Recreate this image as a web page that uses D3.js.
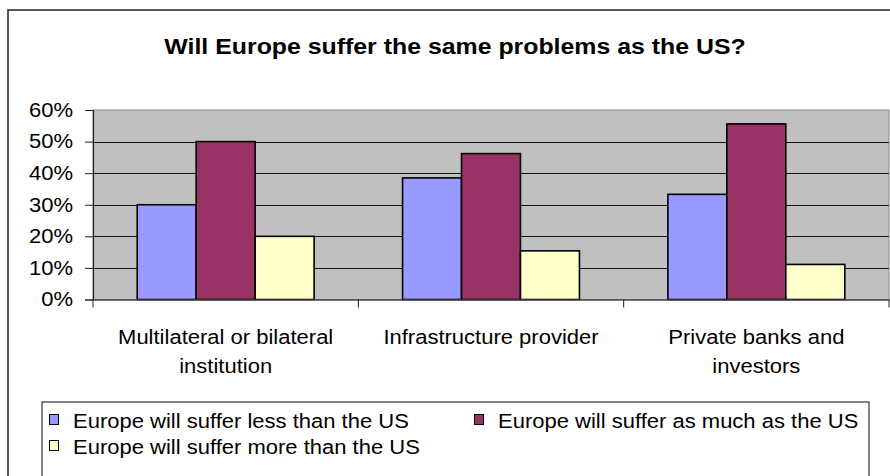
<!DOCTYPE html>
<html>
<head>
<meta charset="utf-8">
<script src="https://cdn.jsdelivr.net/npm/d3@7"></script>
<style>
  html, body { margin: 0; padding: 0; background: #fff; }
  svg { display: block; }
  text { font-family: Arial, "Liberation Sans", sans-serif; fill: #000; }
</style>
</head>
<body>
<svg id="chart" width="890" height="476"></svg>
<script>
const title = "Will Europe suffer the same problems as the US?";
const categories = ["Multilateral or bilateral institution", "Infrastructure provider", "Private banks and investors"];
const seriesNames = ["Europe will suffer less than the US", "Europe will suffer as much as the US", "Europe will suffer more than the US"];
const lessValues = [30, 38.5, 33.3];
const sameValues = [50, 46.2, 55.6];
const moreValues = [20, 15.4, 11.1];
const yTicks = [0, 10, 20, 30, 40, 50, 60];
const colors = ["#9999FF", "#993366", "#FFFFCC"];

const series = [lessValues, sameValues, moreValues];
const STRETCH = 1.1;
const FS = 20;

const svg = d3.select("#chart");

function stretch(sel, k) {
  sel.each(function () {
    const w = this.getComputedTextLength();
    d3.select(this).attr("textLength", w * k).attr("lengthAdjust", "spacingAndGlyphs");
  });
}

// outer chart border
svg.append("rect").attr("x", 8).attr("y", 10).attr("width", 900).attr("height", 500)
  .attr("fill", "#fff").attr("stroke", "#222").attr("stroke-width", 1.5);

// title
svg.append("text").attr("x", 455).attr("y", 54).attr("text-anchor", "middle")
  .attr("font-size", 22).attr("font-weight", "bold").text(title).call(stretch, 1.13);

const plot = { left: 93, right: 889, top: 110, bottom: 299.5 };

const y = d3.scaleLinear().domain([0, 60]).range([plot.bottom, plot.top]);
const x0 = d3.scaleBand().domain(categories).range([plot.left, plot.right]).paddingInner(0).paddingOuter(0);
const x1 = d3.scaleBand().domain(d3.range(series.length)).range([0, x0.bandwidth()]).paddingInner(0).paddingOuter(0.75);

// plot background
svg.append("rect").attr("x", plot.left).attr("y", plot.top)
  .attr("width", plot.right - plot.left).attr("height", plot.bottom - plot.top)
  .attr("fill", "#C0C0C0").attr("stroke", "#8a8a8a").attr("stroke-width", 1);

// gridlines
svg.append("g").selectAll("line").data(yTicks.filter(t => t > 0 && t < 60)).join("line")
  .attr("x1", plot.left).attr("x2", plot.right)
  .attr("y1", d => Math.round(y(d)) + 0.5).attr("y2", d => Math.round(y(d)) + 0.5)
  .attr("stroke", "#111").attr("stroke-width", 1);

// y axis
const yAxis = d3.axisLeft(y).tickValues(yTicks).tickFormat(d => d + "%").tickSize(8).tickPadding(12);
const gy = svg.append("g").attr("transform", `translate(${plot.left},0)`).call(yAxis);
gy.select(".domain").attr("stroke", "#222").attr("stroke-width", 1.2);
gy.selectAll(".tick line").attr("stroke", "#222");
gy.selectAll(".tick text").attr("font-size", FS).attr("font-family", "Arial, 'Liberation Sans', sans-serif")
  .attr("fill", "#000").call(stretch, STRETCH);

// bars
const groups = svg.append("g").selectAll("g").data(categories).join("g")
  .attr("transform", d => `translate(${x0(d)},0)`);
groups.selectAll("rect").data((d, i) => series.map((s, j) => ({ j, v: s[i] }))).join("rect")
  .attr("x", d => x1(d.j)).attr("width", x1.bandwidth())
  .attr("y", d => y(d.v)).attr("height", d => y(0) - y(d.v))
  .attr("fill", d => colors[d.j]).attr("stroke", "#000").attr("stroke-width", 1.6);

// x axis
const xAxis = d3.axisBottom(x0).tickSize(0).tickFormat("");
const gx = svg.append("g").attr("transform", `translate(0,${plot.bottom})`).call(xAxis);
gx.select(".domain").attr("stroke", "#444").attr("stroke-width", 1.5);
const boundaries = categories.map(c => x0(c)).concat([plot.right]);
gx.selectAll("line.bt").data(boundaries).join("line").attr("class", "bt")
  .attr("x1", d => d).attr("x2", d => d).attr("y1", 0).attr("y2", 8)
  .attr("stroke", "#222").attr("stroke-width", 1);

// category labels with wrapping
const measure = svg.append("text").attr("font-size", FS).attr("visibility", "hidden");
function wrapLines(str, maxW) {
  const words = str.split(" ");
  const lines = [];
  let cur = "";
  words.forEach(w => {
    const t = cur ? cur + " " + w : w;
    measure.text(t);
    if (measure.node().getComputedTextLength() * STRETCH > maxW && cur) {
      lines.push(cur); cur = w;
    } else cur = t;
  });
  if (cur) lines.push(cur);
  return lines;
}
categories.forEach(c => {
  const lines = wrapLines(c, 250);
  lines.forEach((ln, k) => {
    svg.append("text").attr("x", x0(c) + x0.bandwidth() / 2).attr("y", 344 + k * 29)
      .attr("text-anchor", "middle").attr("font-size", FS).text(ln).call(stretch, STRETCH);
  });
});
measure.remove();

// legend
svg.append("rect").attr("x", 42).attr("y", 402).attr("width", 827).attr("height", 100)
  .attr("fill", "#fff").attr("stroke", "#333").attr("stroke-width", 1.2);
const legendPos = [{ x: 49, y: 428 }, { x: 474, y: 428 }, { x: 49, y: 454 }];
const lg = svg.append("g").selectAll("g").data(seriesNames).join("g")
  .attr("transform", (d, i) => `translate(${legendPos[i].x},${legendPos[i].y})`);
lg.append("rect").attr("x", 0.5).attr("y", -13.5).attr("width", 9).attr("height", 10)
  .attr("fill", (d, i) => colors[i]).attr("stroke", "#000").attr("stroke-width", 1);
lg.append("text").attr("x", 24).attr("y", 0).attr("font-size", FS).text(d => d).call(stretch, STRETCH);
</script>
</body>
</html>
